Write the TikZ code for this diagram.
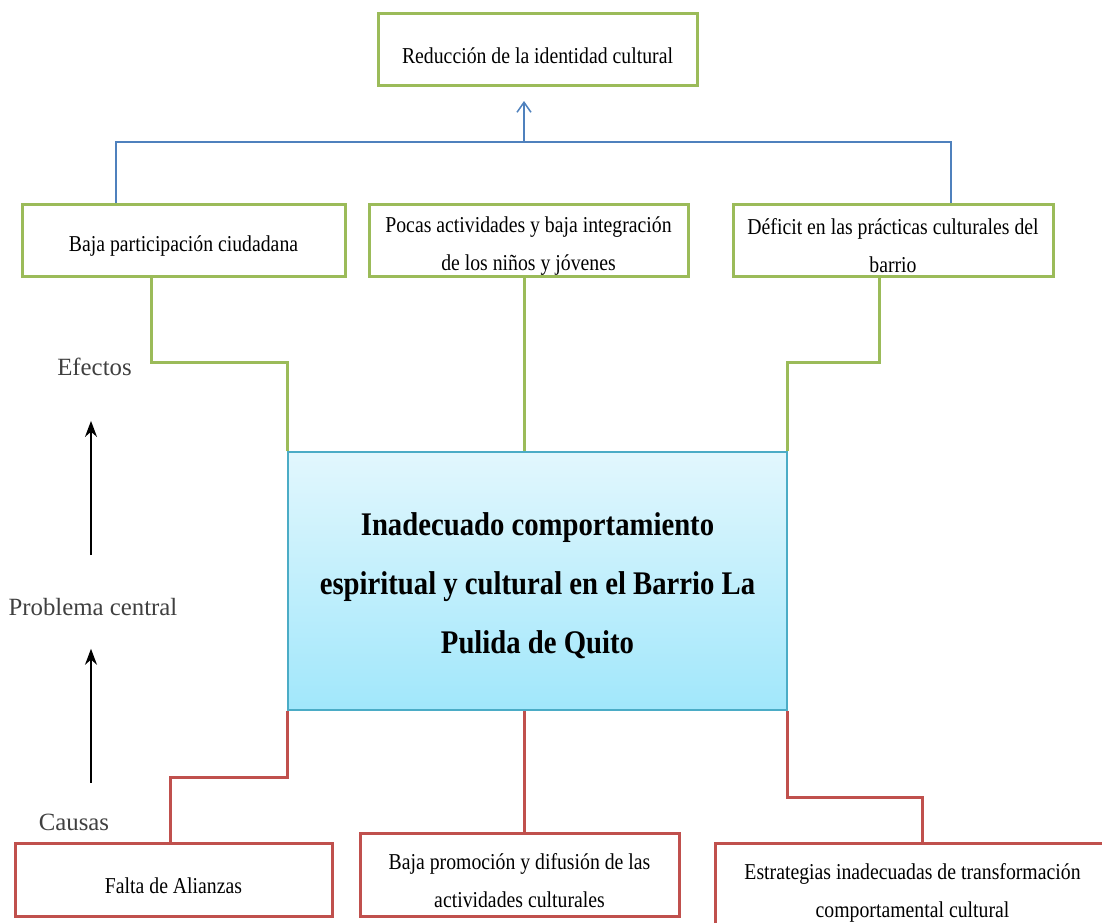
\documentclass[tikz,border=0pt]{standalone}
\usepackage{fontspec}
\setmainfont{Liberation Serif}
\newfontfamily\cajafont[FakeStretch=0.87]{Liberation Serif}
\usetikzlibrary{arrows.meta}
\definecolor{verde}{HTML}{9BBB59}
\definecolor{rojo}{HTML}{C0504D}
\definecolor{azul}{HTML}{4F81BD}
\definecolor{celeste}{HTML}{4BACC6}
\definecolor{cieloA}{HTML}{E2F7FD}
\definecolor{cieloB}{HTML}{A1E7FB}
\definecolor{gris}{HTML}{404040}
\begin{document}
\begin{tikzpicture}[x=0.5pt, y=-0.5pt,
        caja/.style={draw, line width=1.5pt, fill=white, inner sep=0pt, minimum height=36pt},
        efecto/.style={caja, draw=verde},
        causa/.style={caja, draw=rojo},
        texto/.style={label={[font=\cajafont\fontsize{11.35}{19}\selectfont, align=center, yshift=-3pt]center:{#1}}},
        lineaverde/.style={draw=verde, line width=1.5pt},
        linearoja/.style={draw=rojo, line width=1.5pt},
        etiqueta/.style={font=\fontsize{12.4}{14}\selectfont, text=gris},
        flecha/.style={line width=0.75pt, -{Stealth[length=8pt, width=6pt]}}]
            \useasboundingbox (0,0) rectangle (1102,922);
            \node[efecto, minimum width=159.5pt, texto={Reducción de la identidad cultural}] (reduc) at (537.5,49.5) {};
            \node[efecto, minimum width=161.5pt, texto={Baja participación ciudadana}] (efA) at (183.5,240) {};
            \node[efecto, minimum width=159.5pt, texto={Pocas actividades y baja integración\\de los niños y jóvenes}] (efB) at (528.5,240) {};
            \node[efecto, minimum width=160pt, texto={Déficit en las prácticas culturales del\\barrio}] (efC) at (893,240) {};
            \node[draw=celeste, line width=0.75pt, top color=cieloA, bottom color=cieloB, inner sep=0pt, minimum width=249.5pt, minimum height=129pt,
                label={[font=\cajafont\bfseries\fontsize{16.5}{29.5}\selectfont, align=center, yshift=-2.5pt]center:{Inadecuado comportamiento\\espiritual y cultural en el Barrio La\\Pulida de Quito}}] (central) at (537.5,581) {};
            \node[causa, minimum width=158.5pt, minimum height=36.5pt, texto={Falta de Alianzas}] (caA) at (173.5,879.5) {};
            \node[causa, minimum width=159.5pt, minimum height=41.5pt, texto={Baja promoción y difusión de las\\actividades culturales}] (caB) at (519.5,874.5) {};
            \node[causa, minimum width=197.5pt, minimum height=43.5pt, texto={Estrategias inadecuadas de transformación\\comportamental cultural}] (caC) at (912.5,886.5) {};
            \node[etiqueta] (efe) at (94.5,367) {Efectos};
            \node[etiqueta] (prob) at (93,607) {Problema central};
            \node[etiqueta] (cau) at (74,822) {Causas};
            \coordinate (mid) at (524,0);
            \coordinate (union) at (524,142);
            \coordinate (punta) at (524,101);
            \coordinate (gA) at (151,362);
            \coordinate (gC) at (879,362);
            \coordinate (rA) at (170,777);
            \coordinate (rC) at (922,797);
            \coordinate (ax) at (91,0);
            \draw[azul, line width=0.75pt] ([xshift=-33.75pt]efA.north) |- (union) -| ([xshift=29pt]efC.north);
            \draw[azul, line width=0.75pt, -{Straight Barb[length=5pt, width=7pt]}] (union) -- (punta);
            \draw[lineaverde] (efA.south -| gA) -- (gA) -| (central.north west);
            \draw[lineaverde] (efB.south -| mid) -- (central.north -| mid);
            \draw[lineaverde] (efC.south -| gC) -- (gC) -| (central.north east);
            \draw[linearoja] (central.south west) |- (rA) -- (rA |- caA.north);
            \draw[linearoja] (central.south -| mid) -- (caB.north -| mid);
            \draw[linearoja] (central.south east) |- (rC) -- (rC |- caC.north);
            \draw[flecha, shorten <=18pt, shorten >=19pt] (ax |- prob.north) -- (ax |- efe.south);
            \draw[flecha, shorten <=12pt, shorten >=13pt] (ax |- cau.north) -- (ax |- prob.south);
        \end{tikzpicture}
\end{document}
